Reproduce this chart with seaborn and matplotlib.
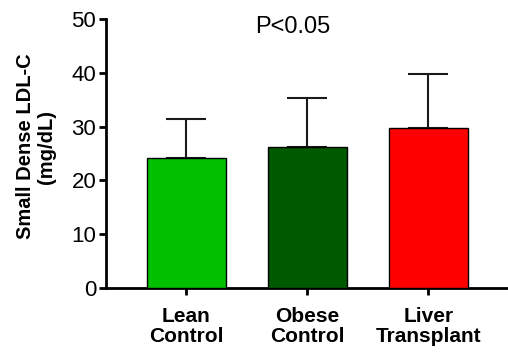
import matplotlib
matplotlib.use("Agg")
import matplotlib.pyplot as plt
import seaborn as sns
import pandas as pd

groups = ["Lean\nControl", "Obese\nControl", "Liver\nTransplant"]
means = [24.2, 26.3, 29.8]
sd_upper = [7.2, 9.0, 10.1]
colors = ["#00c000", "#005a00", "#ff0000"]
yticks = [0, 10, 20, 30, 40, 50]

sns.set_theme(style="ticks")
plt.rcParams['font.family'] = ['Liberation Sans', 'DejaVu Sans']
plt.rcParams['text.color'] = 'black'
plt.rcParams['axes.labelcolor'] = 'black'
plt.rcParams['xtick.color'] = 'black'
plt.rcParams['ytick.color'] = 'black'

fig = plt.figure(figsize=(5.08, 3.52), dpi=100)
ax = fig.add_axes([106/508, 64.3/352, 1 - 106/508 + 0.01, (287.7 - 19.3)/352])

df = pd.DataFrame({"group": groups, "mean": means})
sns.barplot(data=df, x="group", y="mean", hue="group", palette=colors,
            saturation=1, legend=False, errorbar=None, width=0.655,
            edgecolor="black", linewidth=1.0, ax=ax, zorder=3)

ax.errorbar(range(len(groups)), means, yerr=[[0]*len(means), sd_upper],
            fmt="none", ecolor="#1a1a1a", elinewidth=1.5, capsize=14.4,
            capthick=1.5, zorder=2)

ax.set_xlim(-0.663, 2.7)
ax.set_ylim(0, 50)
ax.set_yticks(yticks)
ax.set_yticklabels([str(v) for v in yticks], fontsize=16, color="black")
ax.set_xticks(range(len(groups)))
ax.set_xticklabels(groups, fontsize=15, fontweight="bold", linespacing=1.08,
                   color="black")
ax.tick_params(axis="y", length=5, width=2, pad=2, colors="black")
ax.tick_params(axis="x", length=5, width=2, pad=9, colors="black")

ax.set_xlabel("")
ax.set_ylabel("Small Dense LDL-C\n(mg/dL)", fontsize=14.5, fontweight="bold",
              linespacing=1.1, color="black")
ax.yaxis.set_label_coords(-0.124, 0.526)

for s in ["top", "right"]:
    ax.spines[s].set_visible(False)
for s in ["left", "bottom"]:
    ax.spines[s].set_linewidth(2)
    ax.spines[s].set_color("black")

fig.text(293/508, 1 - 27/352, "P<0.05", fontsize=17, ha="center", va="center",
         color="black")

fig.savefig("out.png", dpi=100)
